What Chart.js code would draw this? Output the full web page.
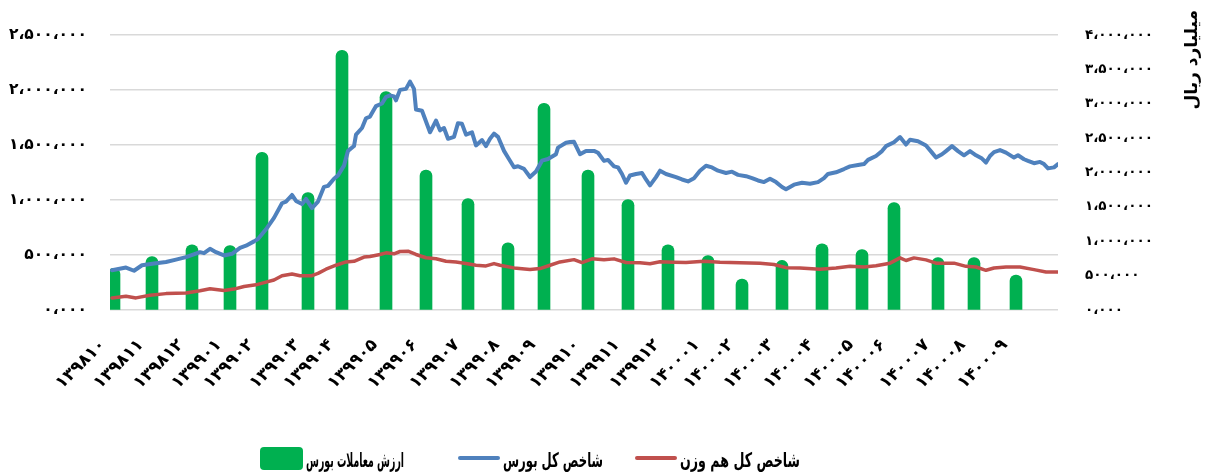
<!DOCTYPE html>
<html><head><meta charset="utf-8">
<script src="https://cdn.jsdelivr.net/npm/chart.js@4.4.1/dist/chart.umd.min.js"></script>
<style>
html,body{margin:0;padding:0;background:#fff;}
#wrap{position:relative;width:1214px;height:475px;overflow:hidden;}
canvas{position:absolute;left:0;top:0;}
.lg{position:absolute;top:446px;height:24px;display:flex;align-items:center;font:bold 20px "DejaVu Sans",sans-serif;color:#000;white-space:nowrap;}
.sym{display:inline-block;margin-right:3px;flex:none;}
.txt{display:inline-block;transform-origin:left center;position:relative;top:2px;}
</style></head><body>
<div id="wrap"><canvas id="c" width="1214" height="475"></canvas><div id="legend"></div></div>
<script>
// ---- data ----
const monthLabels = ["۱۳۹۸۱۰","۱۳۹۸۱۱","۱۳۹۸۱۲","۱۳۹۹۰۱","۱۳۹۹۰۲","۱۳۹۹۰۳","۱۳۹۹۰۴","۱۳۹۹۰۵","۱۳۹۹۰۶","۱۳۹۹۰۷","۱۳۹۹۰۸","۱۳۹۹۰۹","۱۳۹۹۱۰","۱۳۹۹۱۱","۱۳۹۹۱۲","۱۴۰۰۰۱","۱۴۰۰۰۲","۱۴۰۰۰۳","۱۴۰۰۰۴","۱۴۰۰۰۵","۱۴۰۰۰۶","۱۴۰۰۰۷","۱۴۰۰۰۸","۱۴۰۰۰۹"];
// trading-day index of each month's bar
const monthDays = [2,21,41,60,76,99,116,138,158,179,199,217,239,259,279,299,316,336,356,376,392,414,432,453];
const totalDays = 474;
// ارزش معاملات بورس (میلیارد ریال) – right axis
const tradeValue = [607000,779000,950000,936000,2293000,1707000,3779000,3179000,2036000,1621000,979000,3007000,2036000,1607000,950000,793000,450000,721000,964000,879000,1564000,764000,764000,507000];
// شاخص کل بورس – left axis (thousands)
const indexDays = [1,8,12,16,22,28,33,38,45,47,50,53,57,61,65,68,72,74,78,82,86,88,91,93,96,98,101,104,107,109,112,114,117,119,122,123,126,128,130,132,133,136,138,140,142,143,145,148,150,152,153,156,158,160,163,165,167,169,172,174,176,178,181,183,186,188,190,192,194,197,199,202,204,207,210,213,216,219,223,224,228,230,232,235,238,242,244,247,249,252,254,256,258,260,263,266,268,270,273,275,278,283,286,289,292,295,298,301,304,308,311,314,318,321,324,327,330,333,336,338,342,346,350,354,357,359,363,367,370,374,377,379,383,386,388,392,395,398,400,404,408,411,413,416,418,421,424,427,430,433,436,438,440,442,445,448,452,454,457,459,462,465,467,469,472,474];
const indexValues = [362,386,357,407,422,437,458,481,526,517,556,526,496,511,565,585,624,645,734,838,971,986,1046,992,963,1010,927,986,1120,1129,1194,1224,1313,1447,1491,1595,1655,1744,1759,1824,1854,1878,1937,1952,1943,1907,2002,2011,2077,2011,1824,1812,1714,1616,1723,1634,1655,1557,1575,1699,1693,1595,1616,1497,1545,1491,1557,1604,1575,1447,1387,1298,1307,1283,1209,1260,1358,1373,1417,1477,1521,1527,1530,1417,1447,1447,1430,1356,1365,1306,1297,1237,1157,1223,1237,1246,1187,1133,1208,1267,1237,1208,1187,1169,1199,1267,1312,1297,1267,1246,1258,1229,1217,1199,1178,1163,1193,1163,1119,1098,1140,1157,1148,1163,1199,1237,1252,1282,1306,1318,1327,1365,1401,1445,1490,1526,1573,1505,1549,1535,1496,1431,1386,1416,1445,1490,1445,1407,1445,1407,1377,1341,1401,1436,1454,1431,1386,1407,1371,1356,1335,1347,1327,1288,1297,1327];
// شاخص کل هم وزن – left axis (thousands)
const ewDays = [1,8,13,20,28,38,45,50,57,62,67,73,78,82,86,91,95,101,104,108,113,118,122,127,130,135,138,142,145,149,153,158,163,168,173,178,183,188,192,195,202,210,215,220,225,232,236,241,247,252,258,265,270,275,282,288,297,305,315,325,332,338,345,355,363,370,377,383,390,395,398,402,408,413,422,428,433,438,442,448,455,462,468,474];
const ewValues = [110,125,110,134,149,154,175,193,178,190,214,229,253,273,312,327,312,312,333,371,407,437,443,481,487,505,520,511,532,535,505,475,466,443,437,422,407,401,422,407,383,368,377,407,437,458,431,465,456,465,432,429,420,438,435,432,444,435,429,426,414,385,382,370,382,397,391,403,426,474,450,474,456,426,426,397,391,361,382,391,391,367,346,346];
const seriesLabels = ["ارزش معاملات بورس","شاخص کل بورس","شاخص کل هم وزن"];
const rightAxisTitle = "میلیارد ریال";

// ---- helpers ----
const faDigits = s => String(s).replace(/\d/g, d => "۰۱۲۳۴۵۶۷۸۹"[d]);
function fmt(v){
  let s = Math.round(v).toString();
  if (s.length < 4) s = s.padStart(4, "0");
  return faDigits(s.replace(/\B(?=(\d{3})+(?!\d))/g, "،"));
}
const FONT = '"DejaVu Sans", sans-serif';

const titlePlugin = {
  id: "rtitle",
  afterDraw(c) {
    const g = c.ctx;
    g.save();
    g.translate(1193, 10);
    g.rotate(-Math.PI / 2);
    g.font = 'bold 17px ' + FONT;
    g.textAlign = "right";
    g.textBaseline = "middle";
    g.fillStyle = "#000";
    g.fillText(rightAxisTitle, 0, 0);
    g.restore();
  }
};

const chart = new Chart(document.getElementById("c"), {
  type: "bar",
  data: {
    datasets: [
      { type: "bar", label: seriesLabels[0], yAxisID: "y1",
        data: monthDays.map((d, i) => ({ x: d, y: tradeValue[i] })),
        backgroundColor: "#00B050", barThickness: 12,
        borderRadius: { topLeft: 6, topRight: 6 }, borderSkipped: "start", order: 3 },
      { type: "line", label: seriesLabels[1], yAxisID: "y",
        data: indexDays.map((d, i) => ({ x: d, y: indexValues[i] * 1000 })),
        borderColor: "#4F81BD", backgroundColor: "#4F81BD", borderWidth: 4,
        pointRadius: 0, tension: 0, borderJoinStyle: "round", borderCapStyle: "round", order: 1 },
      { type: "line", label: seriesLabels[2], yAxisID: "y",
        data: ewDays.map((d, i) => ({ x: d, y: ewValues[i] * 1000 })),
        borderColor: "#C0504D", backgroundColor: "#C0504D", borderWidth: 3.5,
        pointRadius: 0, tension: 0, borderJoinStyle: "round", borderCapStyle: "round", order: 2 }
    ]
  },
  options: {
    responsive: false, animation: false,
    layout: { padding: { top: 30, left: 0, right: 0, bottom: 0 } },
    plugins: { legend: { display: false }, tooltip: { enabled: false } },
    scales: {
      x: {
        type: "linear", min: 0, max: totalDays, offset: false,
        grid: { display: false }, border: { display: false },
        afterBuildTicks: s => { s.ticks = monthDays.map(v => ({ value: v })); },
        ticks: {
          autoSkip: false, minRotation: 45, maxRotation: 45, padding: 17, labelOffset: -11,
          color: "#000", font: { family: FONT, size: 17, weight: "bold" },
          callback: v => { const i = monthDays.indexOf(v); return i >= 0 ? monthLabels[i] : ""; }
        },
        afterFit: s => { s.height = 165; }
      },
      y: {
        position: "left", min: 0, max: 2500000,
        grid: { color: "#D9D9D9", lineWidth: 1.5, drawTicks: false },
        border: { display: false },
        ticks: { stepSize: 500000, padding: 23, color: "#000",
          font: { family: FONT, size: 15.5, weight: "bold" }, callback: v => fmt(v) },
        afterFit: s => { s.width = 110; }
      },
      y1: {
        position: "right", min: 0, max: 4000000,
        grid: { drawOnChartArea: false, drawTicks: false },
        border: { display: false },
        ticks: { stepSize: 500000, padding: 27, color: "#000",
          font: { family: FONT, size: 13.5, weight: "bold" }, callback: v => fmt(v) },
        afterFit: s => { s.width = 156; }
      }
    }
  },
  plugins: [titlePlugin]
});

// ---- HTML legend ----
const legendLeft = [260, 458, 635];
const legendTextWidth = [98, 100, 120];
const lg = document.getElementById("legend");
chart.data.datasets.forEach((ds, i) => {
  const item = document.createElement("div");
  item.className = "lg";
  item.style.left = legendLeft[i] + "px";
  const sym = document.createElement("span");
  sym.className = "sym";
  if (ds.type === "bar") {
    sym.style.cssText = "width:43px;height:23px;border-radius:4px;background:" + ds.backgroundColor;
  } else {
    sym.style.cssText = "width:42px;height:4px;border-radius:2px;background:" + ds.borderColor;
  }
  const txt = document.createElement("span");
  txt.className = "txt";
  txt.textContent = ds.label;
  txt.dir = "rtl";
  item.appendChild(sym); item.appendChild(txt);
  lg.appendChild(item);
  const w = txt.getBoundingClientRect().width;
  if (w > 0) txt.style.transform = "scaleX(" + (legendTextWidth[i] / w) + ")";
});
</script>
</body></html>
